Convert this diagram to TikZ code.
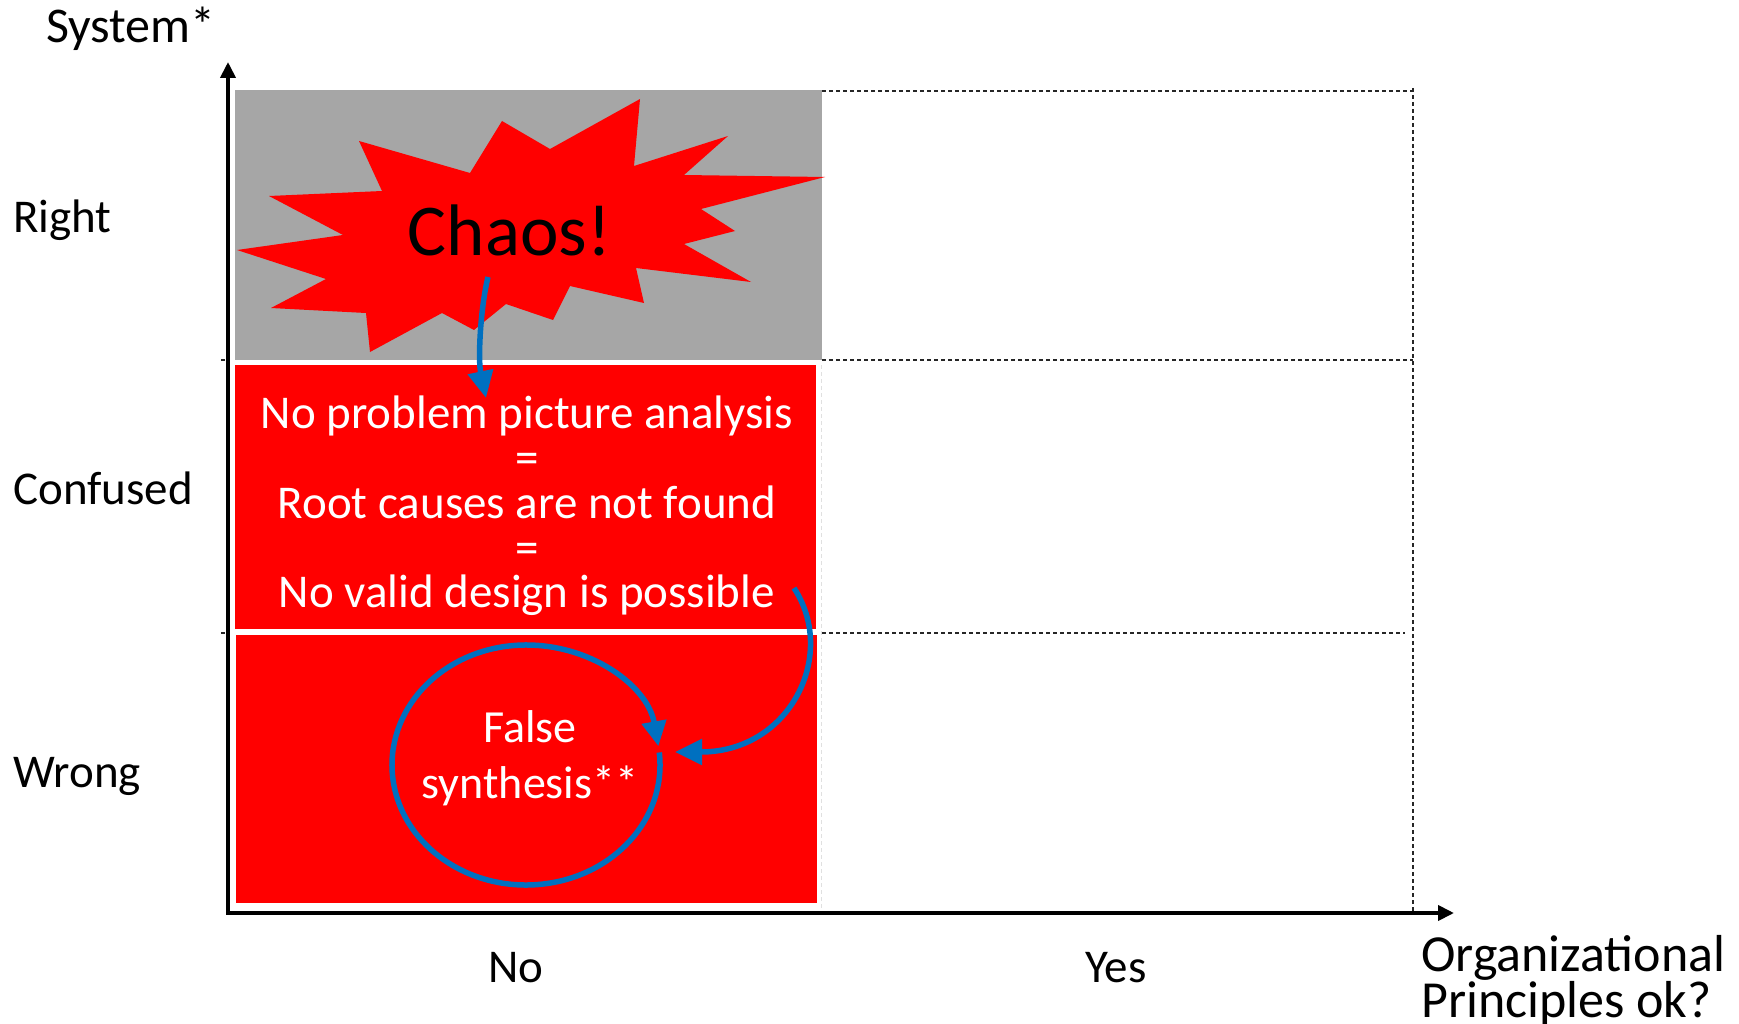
\documentclass[tikz,border=0pt]{standalone}
\usepackage{fontspec}
\setmainfont{Carlito}
\usetikzlibrary{arrows.meta,calc}
\definecolor{chaosred}{HTML}{FF0000}
\definecolor{boxgrey}{HTML}{A6A6A6}
\definecolor{arrowblue}{HTML}{0070C0}
\begin{document}
\begin{tikzpicture}[x=1pt,y=-1pt,
  axisline/.style={line width=3.8pt,{Triangle[length=16pt,width=15pt]}-{Triangle[length=16pt,width=15pt]}},
  gridline/.style={dash pattern=on 4pt off 3pt, line width=1.1pt, black!85},
  faintline/.style={dash pattern=on 4pt off 3pt, line width=1pt, black!12},
  lbl/.style={font=\fontsize{47}{47}\selectfont, inner sep=0pt, anchor=base west},
  bluearrow/.style={draw=arrowblue, line width=5.5pt, -{Triangle[length=27pt,width=25pt]}},
  cell/.style={inner sep=0pt, anchor=north west},
  redtext/.style={text=white, align=center, inner sep=0pt}
]
\useasboundingbox (0,0) rectangle (1739,1024);
% cells
\node[cell, fill=boxgrey, minimum width=587pt, minimum height=270pt] (topcell) at (235,90) {};
\node[cell, fill=chaosred, minimum width=581pt, minimum height=264pt] (midcell) at (235,365) {};
\node[cell, fill=chaosred, minimum width=581pt, minimum height=268pt] (lowcell) at (236,635) {};
% grid
\draw[gridline] (822,91) -- (1413,91);
\draw[gridline] (822,360) -- (1413,360);
\draw[gridline] (822,633) -- (1405,633);
\draw[gridline] (1413,88) -- (1413,913);
\draw[gridline] (221,360) -- (228,360);
\draw[gridline] (221,633) -- (228,633);
\draw[faintline] (821,365) -- (821,913);
% axes
\coordinate (ytop) at (228,62);
\coordinate (origin) at (228,913);
\coordinate (xend) at (1454,913);
\draw[axisline] (ytop) -- (origin) -- (xend);
% star
\fill[chaosred] (640,99) -- (634,166) -- (728,136) -- (684,175) -- (825,177) -- (701,209)
  -- (735,231) -- (684,244) -- (751,282) -- (636,268) -- (644,303) -- (570,286)
  -- (553,320) -- (506,304) -- (474,330) -- (442,313) -- (370,352) -- (366,313)
  -- (271,308) -- (326,279) -- (237,250) -- (343,235) -- (269,196) -- (382,191)
  -- (359,141) -- (470,173) -- (502,121) -- (550,149) -- cycle;
\node[inner sep=0pt, anchor=base, font=\fontsize{73}{73}\selectfont] (chaos) at (509.5,255) {Chaos!};
% texts
\node[lbl, font=\fontsize{50}{50}\selectfont] (sys) at (46,43) {System*};
\node[lbl] (right) at (13,233) {Right};
\node[lbl] (confused) at (13,504) {Confused};
\node[lbl] (wrong) at (13,787) {Wrong};
\node[inner sep=0pt, anchor=base, font=\fontsize{47}{47}\selectfont] (no) at (516,982) {No};
\node[inner sep=0pt, anchor=base, font=\fontsize{47}{47}\selectfont] (yes) at (1116,982) {Yes};
\node[inner sep=0pt, anchor=north west, align=left, font=\fontsize{52}{44}\selectfont] (orgp) at (1421,935) {Organizational\\Principles ok?};
\node[redtext, font=\fontsize{47}{44.75}\selectfont] (midtext) at (527,506) {No problem picture analysis\\=\\Root causes are not found\\=\\No valid design is possible};
\node[redtext, font=\fontsize{46}{56}\selectfont] (fs) at (530,758) {False\\synthesis**};
% arrows
\coordinate (chaosfrom) at (488,277);
\coordinate (chaosto) at (486,398);
\draw[bluearrow] (chaosfrom) .. controls (480,310) and (478,360) .. (chaosto);
\coordinate (possend) at (794,588);
\coordinate (loopin) at (675,752);
\draw[bluearrow] (possend) .. controls (838,655) and (790,752) .. (loopin);
\coordinate (loopc) at (526,765);
\draw[draw=arrowblue, line width=5.5pt, -{Triangle[length=25pt,width=24pt]}]
  ($(loopc)+(-6:134 and 120)$) arc[start angle=-6, end angle=351, x radius=134, y radius=120];
\end{tikzpicture}
\end{document}
